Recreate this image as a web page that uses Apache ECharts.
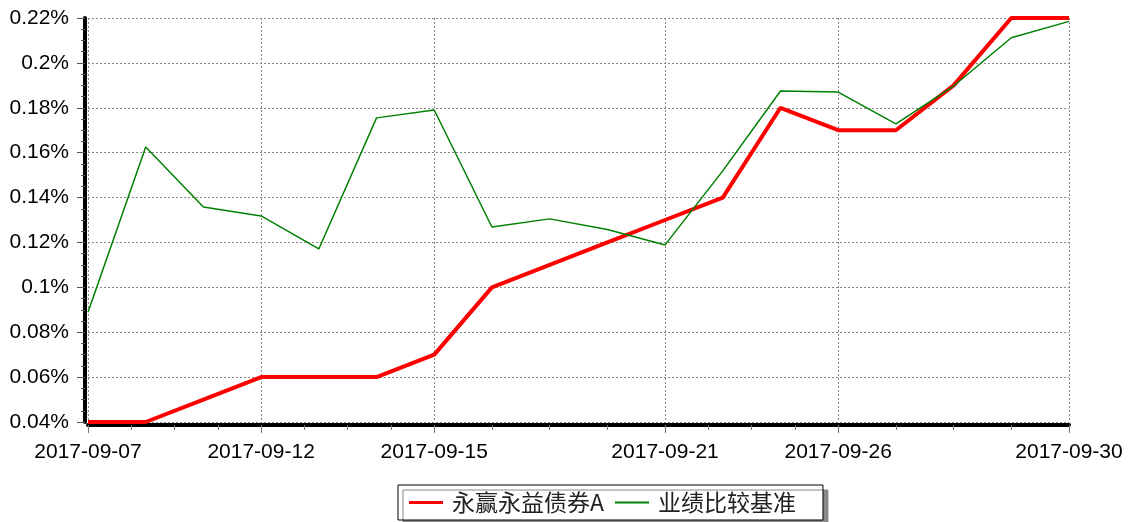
<!DOCTYPE html>
<html>
<head>
<meta charset="utf-8">
<script src="https://cdn.jsdelivr.net/npm/echarts@6/dist/echarts.min.js"></script>
<style>
html,body{margin:0;padding:0;background:#fff;}
#chart{width:1129px;height:522px;}
</style>
</head>
<body>
<div id="chart"></div>
<script>
const dates = ['2017-09-07','2017-09-08','2017-09-11','2017-09-12','2017-09-13','2017-09-14','2017-09-15','2017-09-18','2017-09-19','2017-09-20','2017-09-21','2017-09-22','2017-09-25','2017-09-26','2017-09-27','2017-09-28','2017-09-29','2017-09-30'];
const labeledDates = ['2017-09-07','2017-09-12','2017-09-15','2017-09-21','2017-09-26','2017-09-30'];
const seriesNames = ['永赢永益债券A','业绩比较基准'];
const fundValues = [0.04,0.04,0.05,0.06,0.06,0.06,0.07,0.10,0.11,0.12,0.13,0.14,0.18,0.17,0.17,0.19,0.22,0.22];
const benchValues = [0.0889,0.1625,0.1358,0.1318,0.1171,0.1755,0.1790,0.1269,0.1305,0.1258,0.1189,0.1519,0.1875,0.1870,0.1728,0.1897,0.2112,0.2185];
const yTicks = {min:0.04, max:0.22, interval:0.02};

const labeledIdx = labeledDates.map(d => dates.indexOf(d));
const isLabeled = (i) => labeledIdx.indexOf(i) >= 0;
// minor tick axis: quarter-step categories (unique keys), each labeled gap split in 4
const minorCats = [];
for (let i = 0; i <= (dates.length - 1) * 4; i++) minorCats.push('m' + i);
const minorSet = new Set();
for (let j = 0; j < labeledIdx.length - 1; j++) {
  const a = labeledIdx[j], b = labeledIdx[j + 1];
  for (let k = 1; k <= 3; k++) minorSet.add(4 * a + k * (b - a));
}

const font = '"Liberation Sans", Arial, sans-serif';
const chart = echarts.init(document.getElementById('chart'));
chart.setOption({
  animation: false,
  backgroundColor: '#fff',
  grid: {left: 88, right: 60, top: 18, bottom: 100, containLabel: false},
  xAxis: [{
    type: 'category',
    data: dates,
    boundaryGap: false,
    offset: 3,
    axisLine: {show: true, lineStyle: {color: '#000', width: 4}},
    axisTick: {show: true, length: 8, interval: (i) => isLabeled(i), lineStyle: {color: '#777', width: 1}},
    axisLabel: {show: true, interval: (i) => isLabeled(i), margin: 17, fontSize: 21, color: '#000', fontFamily: font},
    splitLine: {show: true, interval: (i) => isLabeled(i), lineStyle: {color: '#888', type: [2, 2], width: 1}}
  }, {
    type: 'category',
    data: minorCats,
    boundaryGap: false,
    position: 'bottom',
    offset: 3,
    axisLine: {show: false},
    axisTick: {show: true, length: 5, interval: (i) => minorSet.has(i), lineStyle: {color: '#777', width: 1}},
    axisLabel: {show: false},
    splitLine: {show: false}
  }],
  yAxis: {
    type: 'value',
    min: yTicks.min,
    max: yTicks.max,
    interval: yTicks.interval,
    offset: 3,
    axisLine: {show: true, lineStyle: {color: '#000', width: 4}},
    axisTick: {show: true, length: 8, lineStyle: {color: '#555', width: 1}},
    minorTick: {show: true, splitNumber: 4, length: 4, lineStyle: {color: '#555', width: 1}},
    axisLabel: {margin: 16, fontSize: 21, color: '#000', fontFamily: font,
      formatter: (v) => parseFloat(v.toFixed(4)) + '%'},
    splitLine: {show: true, lineStyle: {color: '#888', type: [2, 2], width: 1}}
  },
  legend: {
    left: 398, top: 485,
    data: [
      {name: seriesNames[0], icon: 'path://M0,0 M0,14 M0,5.5 H34 V8.5 H0 Z', itemStyle: {color: '#ff0000'}},
      {name: seriesNames[1], icon: 'path://M0,0 M0,14 M0,6 H34 V8 H0 Z', itemStyle: {color: '#008000'}}
    ],
    orient: 'horizontal',
    itemWidth: 34, itemHeight: 14, itemGap: 11,
    padding: [6, 27, 6, 11],
    borderColor: '#000', borderWidth: 1,
    backgroundColor: '#fff',
    shadowColor: '#888', shadowOffsetX: 5, shadowOffsetY: 5, shadowBlur: 0,
    textStyle: {fontSize: 23, color: '#222', fontFamily: '"Noto Sans CJK SC", sans-serif', padding: [0, 0, 0, 4]}
  },
  series: [{
    name: seriesNames[0],
    type: 'line',
    data: fundValues,
    symbol: 'none',
    lineStyle: {color: '#ff0000', width: 4},
    itemStyle: {color: '#ff0000'},
    z: 3
  }, {
    name: seriesNames[1],
    type: 'line',
    data: benchValues,
    symbol: 'none',
    lineStyle: {color: '#008000', width: 1.5},
    itemStyle: {color: '#008000'},
    z: 4
  }]
});
</script>
</body>
</html>
